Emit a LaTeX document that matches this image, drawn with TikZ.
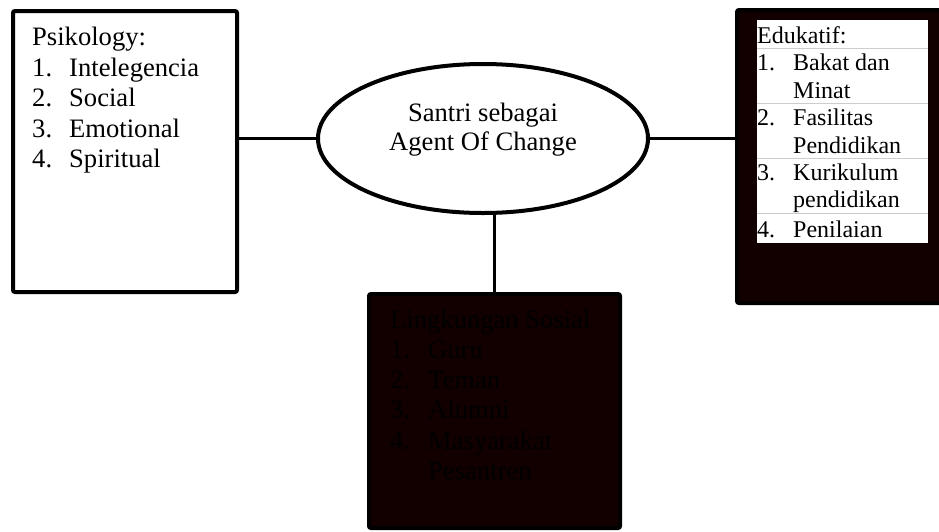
\documentclass[tikz,border=0pt]{standalone}
\usepackage{fontspec}
\setmainfont{Liberation Serif}
\usetikzlibrary{shapes.geometric}
\definecolor{gelap}{RGB}{18,0,0}
\definecolor{garis}{RGB}{205,205,205}
\newcommand{\besar}{\fontsize{26.6}{29}\selectfont}
\newcommand{\sedang}{\fontsize{24}{27}\selectfont}
\begin{document}
\begin{tikzpicture}[x=1pt,y=-1pt,
  kotak/.style={draw=black,line width=4pt,rounded corners=2pt,outer sep=0pt,anchor=north west},
  teks/.style={anchor=base west,inner sep=0pt,font=\besar},
  tekskecil/.style={anchor=base west,inner sep=0pt,font=\sedang},
  hubung/.style={line width=3pt}]
\useasboundingbox (0,0) rectangle (939,531);

% kotak kiri
\node [kotak,fill=white,minimum width=224pt,minimum height=281pt] (psiko) at (13,11) {};
\node [teks] (psikojudul) at (32,45) {Psikology:};
\node [teks] (p1) at (32,76) {1.};  \node [teks] (p1t) at (69,76) {Intelegencia};
\node [teks] (p2) at (32,106) {2.}; \node [teks] (p2t) at (69,106) {Social};
\node [teks] (p3) at (32,137) {3.}; \node [teks] (p3t) at (69,137) {Emotional};
\node [teks] (p4) at (32,167) {4.}; \node [teks] (p4t) at (69,167) {Spiritual};

% elips tengah
\node [draw=black,line width=4pt,ellipse,inner sep=0pt,outer sep=0pt,
  minimum width=330pt,minimum height=149pt] (agent) at (483,138.5) {};
\node [inner sep=0pt,align=center,font=\besar] (agentteks) at (483,130) {Santri sebagai\\Agent Of Change};

% kotak kanan
\node [kotak,fill=gelap,minimum width=204pt,minimum height=293pt] (edu) at (737,10) {};
\fill [white] (757,20) rectangle (928,243);
\draw [garis,line width=0.8pt] (757,48)--(928,48);
\draw [garis,line width=0.8pt] (757,103)--(928,103);
\draw [garis,line width=0.8pt] (757,158)--(928,158);
\draw [garis,line width=0.8pt] (757,213)--(928,213);
\node [tekskecil] (edujudul) at (757,43) {Edukatif:};
\node [tekskecil] (e1) at (757,70) {1.};  \node [tekskecil] (e1t) at (793,70) {Bakat dan};
\node [tekskecil] (e1u) at (793,98) {Minat};
\node [tekskecil] (e2) at (757,125) {2.}; \node [tekskecil] (e2t) at (793,125) {Fasilitas};
\node [tekskecil] (e2u) at (793,153) {Pendidikan};
\node [tekskecil] (e3) at (757,180) {3.}; \node [tekskecil] (e3t) at (793,180) {Kurikulum};
\node [tekskecil] (e3u) at (793,207) {pendidikan};
\node [tekskecil] (e4) at (757,237) {4.}; \node [tekskecil] (e4t) at (793,237) {Penilaian};

% kotak bawah
\node [kotak,fill=gelap,minimum width=251pt,minimum height=234pt] (sosial) at (369,294) {};
\node [teks,text=black] (sosjudul) at (390,328) {Lingkungan Sosial};
\node [teks,text=black] (s1) at (390,358) {1.}; \node [teks,text=black] (s1t) at (428,358) {Guru};
\node [teks,text=black] (s2) at (390,388) {2.}; \node [teks,text=black] (s2t) at (428,388) {Teman};
\node [teks,text=black] (s3) at (390,418) {3.}; \node [teks,text=black] (s3t) at (428,418) {Alumni};
\node [teks,text=black] (s4) at (390,449) {4.}; \node [teks,text=black] (s4t) at (428,449) {Masyarakat};
\node [teks,text=black] (s4u) at (428,479) {Pesantren};

% garis penghubung
\draw [hubung] (agent.west)--(agent.west -| psiko.east);
\draw [hubung] (agent.east)--(agent.east -| edu.west);
\draw [hubung] (sosial.north)--(sosial.north |- agent.south);
\end{tikzpicture}
\end{document}
